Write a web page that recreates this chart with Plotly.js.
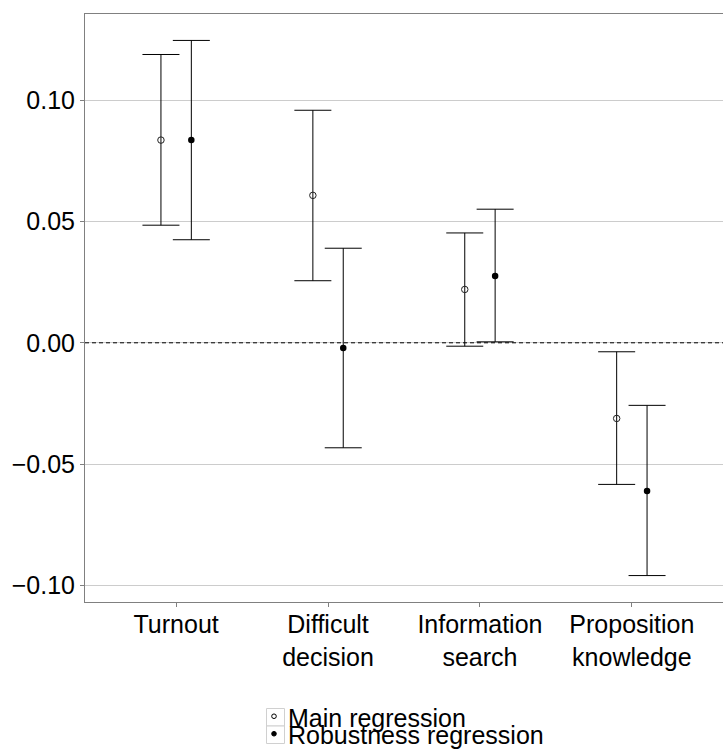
<!DOCTYPE html>
<html>
<head>
<meta charset="utf-8">
<script src="https://cdn.plot.ly/plotly-3.0.1.min.js"></script>
<style>
  html, body { margin: 0; padding: 0; background: #ffffff; }
  #chart { width: 723px; height: 749px; }
</style>
</head>
<body>
<div id="chart"></div>
<script>
// Outcome categories (x axis)
const categories = ['Turnout', 'Difficult<br>decision', 'Information<br>search', 'Proposition<br>knowledge'];

// Main regression: point estimates and confidence bounds
const mainEst  = [0.0836, 0.0608, 0.0220, -0.0312];
const mainLow  = [0.0485, 0.0256, -0.0014, -0.0584];
const mainHigh = [0.1189, 0.0959, 0.0453, -0.0037];

// Robustness regression: point estimates and confidence bounds
const robustEst  = [0.0836, -0.0021, 0.0275, -0.0611];
const robustLow  = [0.0425, -0.0433, 0.0004, -0.0960];
const robustHigh = [0.1247, 0.0390, 0.0551, -0.0258];

// Y axis ticks
const yTickVals = [-0.10, -0.05, 0.00, 0.05, 0.10];
const yTickText = ['\u22120.10', '\u22120.05', '0.00', '0.05', '0.10'];

const seriesNames = ['Main regression', 'Robustness regression'];

// Page geometry
const W = 723, H = 749;
const M = { l: 85, r: 0, t: 14, b: 147 };
const FONT = 'Liberation Sans, Arial, Helvetica, sans-serif';
const FS = 25;
const DODGE = 0.1;

// pixel -> paper helpers for the hand-built legend
const px = v => (v - M.l) / (W - M.l - M.r);
const py = v => (H - M.b - v) / (H - M.t - M.b);

const catIndex = categories.map((_, i) => i + 1);

function errTrace(name, est, lo, hi, offset, marker) {
  return {
    type: 'scatter',
    mode: 'markers',
    name: name,
    x: catIndex.map(i => i + offset),
    y: est,
    showlegend: false,
    hoverinfo: 'skip',
    marker: marker,
    error_y: {
      type: 'data',
      symmetric: false,
      array: hi.map((h, i) => h - est[i]),
      arrayminus: lo.map((l, i) => est[i] - l),
      width: 18.5,
      thickness: 1,
      color: '#000000'
    }
  };
}

const traces = [
  errTrace(seriesNames[0], mainEst, mainLow, mainHigh, -DODGE,
    { symbol: 'circle-open', size: 6.5, color: '#222222', line: { width: 1, color: '#222222' } }),
  errTrace(seriesNames[1], robustEst, robustLow, robustHigh, DODGE,
    { symbol: 'circle', size: 6.5, color: '#000000' })
];

// Legend key boxes and symbols
const keyX0 = 266.5, keyX1 = 284.5;
const keyRows = [
  { y0: 708.5, y1: 726, text: seriesNames[0], sym: 'open' },
  { y0: 726, y1: 743.5, text: seriesNames[1], sym: 'filled' }
];

const shapes = [
  // dashed reference line at zero, drawn over the grid
  {
    type: 'line', xref: 'paper', x0: 0, x1: 1, yref: 'y', y0: 0, y1: 0,
    layer: 'above',
    line: { color: '#000000', width: 1, dash: '4px,3px' }
  }
];
const annotations = [];

keyRows.forEach(r => {
  shapes.push({
    type: 'rect', xref: 'paper', yref: 'paper',
    x0: px(keyX0), x1: px(keyX1), y0: py(r.y1), y1: py(r.y0),
    line: { color: '#d0d0d0', width: 1 }, fillcolor: '#ffffff', layer: 'above'
  });
  const cx = (keyX0 + keyX1) / 2 - 1.5, cy = (r.y0 + r.y1) / 2 - 1;
  shapes.push({
    type: 'circle', xref: 'paper', yref: 'paper',
    xsizemode: 'pixel', ysizemode: 'pixel',
    xanchor: px(cx), yanchor: py(cy),
    x0: -2.3, x1: 2.3, y0: -2.3, y1: 2.3,
    line: { color: '#000000', width: 1 },
    fillcolor: r.sym === 'filled' ? '#000000' : 'rgba(0,0,0,0)',
    layer: 'above'
  });
  annotations.push({
    xref: 'paper', yref: 'paper',
    x: px(287), y: py((r.y0 + r.y1) / 2 + 0.5),
    xanchor: 'left', yanchor: 'middle',
    text: r.text, showarrow: false, borderpad: 0,
    font: { family: FONT, size: FS, color: '#000000' }
  });
});

const layout = {
  width: W,
  height: H,
  margin: M,
  paper_bgcolor: '#ffffff',
  plot_bgcolor: '#ffffff',
  font: { family: FONT, size: FS, color: '#000000' },
  showlegend: false,
  xaxis: {
    range: [0.4, 4.6],
    tickmode: 'array',
    tickvals: catIndex,
    ticktext: categories,
    showgrid: false,
    zeroline: false,
    showline: true,
    mirror: true,
    linecolor: '#808080',
    linewidth: 1,
    // label ticks carry no marks; the short marks come from the minor ticks
    ticks: '',
    minor: {
      tickmode: 'array',
      tickvals: catIndex,
      ticks: 'outside',
      ticklen: 4,
      tickcolor: '#808080',
      showgrid: false
    },
    tickfont: { family: FONT, size: FS, color: '#000000' }
  },
  yaxis: {
    range: [-0.1069, 0.1356],
    tickmode: 'array',
    tickvals: yTickVals,
    ticktext: yTickText,
    showgrid: true,
    gridcolor: '#cccccc',
    gridwidth: 1,
    zeroline: false,
    showline: true,
    mirror: true,
    linecolor: '#808080',
    linewidth: 1,
    ticks: 'outside',
    ticklen: 4,
    tickcolor: '#808080',
    tickfont: { family: FONT, size: FS, color: '#000000' }
  },
  shapes: shapes,
  annotations: annotations
};

Plotly.newPlot('chart', traces, layout, { staticPlot: true, displayModeBar: false });
</script>
</body>
</html>
